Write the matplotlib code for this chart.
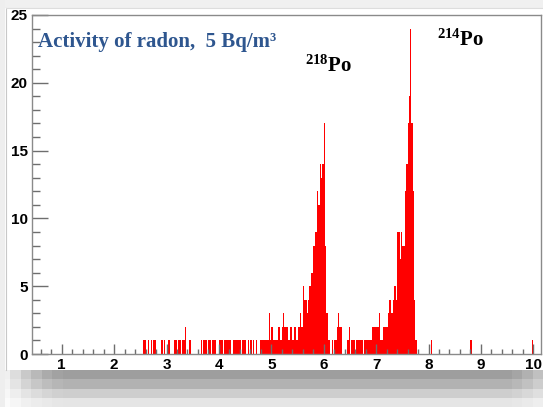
import numpy as np
import matplotlib
matplotlib.use("Agg")
import matplotlib.pyplot as plt
from matplotlib.patches import Rectangle

# ---------------- data (counts per 0.025-wide bin) ----------------
bin_width = 0.025
main_start = 2.5
main_counts = [
    0, 0, 1, 1,   0, 0, 1, 0,   1, 0, 1, 1,   0, 0, 0, 0,   1, 0, 1, 0,      # 2.5 - 2.975
    0, 1, 1, 0,   0, 0, 1, 1,   0, 1, 1, 0,   1, 1, 2, 0,   0, 1, 1, 0,      # 3.0 - 3.475
    0, 0, 0, 0,   0, 0, 1, 0,   1, 1, 1, 0,   1, 1, 0, 1,   1, 1, 0, 0,      # 3.5 - 3.975
    1, 1, 1, 0,   1, 1, 1, 1,   1, 0, 0, 1,   1, 1, 1, 1,   1, 0, 1, 1,      # 4.0 - 4.475
    1, 0, 1, 0,   1, 0, 1, 0,   1, 0, 0, 1,   1, 1, 1, 1,   1, 1, 3, 1,      # 4.5 - 4.975
    2, 1, 1, 1,   1, 2, 2, 1,   2, 3, 2, 2,   2, 1, 2, 2,   1, 2, 2, 1,      # 5.0 - 5.475
    2, 2, 3, 2,   5, 4, 4, 3,   4, 5, 6, 6,   8, 9, 9, 12,  11, 14, 13, 14,  # 5.5 - 5.975
    17, 8, 3, 1,  1, 0, 1, 0,   1, 1, 2, 3,   2, 2, 0, 0,   0, 0, 1, 2,      # 6.0 - 6.475
    0, 1, 1, 1,   0, 1, 1, 1,   1, 1, 0, 1,   1, 1, 1, 1,   1, 2, 2, 2,      # 6.5 - 6.975
    2, 2, 3, 1,   1, 2, 2, 2,   2, 3, 4, 3,   3, 4, 5, 4,   9, 9, 7, 9,      # 7.0 - 7.475
    8, 8, 12, 14, 17, 19, 24, 17, 12, 4, 1, 0,                               # 7.5 - 7.775
]
extra_x = [8.05, 8.80, 9.975]
extra_counts = [1, 1, 1]

x_ticks = [1, 2, 3, 4, 5, 6, 7, 8, 9, 10]
y_ticks = [0, 5, 10, 15, 20, 25]
title_text = "Activity of radon,  5 Bq/m\u00b3"
peak_labels = [r"$\mathbf{^{218}Po}$", r"$\mathbf{^{214}Po}$"]

# ---------------- figure ----------------
plt.rcParams["mathtext.fontset"] = "custom"
plt.rcParams["mathtext.bf"] = "Liberation Serif:bold"
plt.rcParams["mathtext.rm"] = "Liberation Serif"

W, H = 543, 407
fig = plt.figure(figsize=(W / 100, H / 100), dpi=100)
fig.patch.set_facecolor("white")

# slide-like background: light strips and bottom shadow
fig.patches.append(Rectangle((0, 1 - 7.5 / H), 1, 7.5 / H, transform=fig.transFigure,
                             facecolor="#f0f0f0", edgecolor="none", zorder=0))
fig.patches.append(Rectangle((0, 0), 5 / W, 1, transform=fig.transFigure,
                             facecolor="#eeeeee", edgecolor="none", zorder=0))
fig.lines.append(plt.Line2D([5.5 / W, 5.5 / W], [37 / H, 1 - 7.5 / H], transform=fig.transFigure,
                            color="#c8c8c8", lw=0.8))
fig.lines.append(plt.Line2D([5.5 / W, 1], [1 - 7.5 / H, 1 - 7.5 / H], transform=fig.transFigure,
                            color="#dddddd", lw=0.8))

shadow_ax = fig.add_axes([0, 0, 1, 37 / H])
shadow_ax.set_axis_off()
row_dark = np.array([0.10, 0.19, 0.30, 0.38])          # bottom -> top
ncols = 52
col_w = np.ones(ncols)
col_w[:6] = [0.15, 0.35, 0.55, 0.72, 0.86, 0.95]
col_w[-3:] = [0.92, 0.8, 0.65]
img = 1 - row_dark[:, None] * col_w[None, :]
shadow_ax.imshow(np.dstack([img, img, img]), aspect="auto", interpolation="nearest",
                 extent=[0, W, 0, 37], origin="lower")
shadow_ax.set_xlim(0, W)
shadow_ax.set_ylim(0, 37)

# ---------------- histogram axes ----------------
ax = fig.add_axes([32 / W, 1 - 354 / H, (541 - 32) / W, (354 - 15) / H])
edges = main_start + bin_width * np.arange(len(main_counts) + 1)
ax.stairs(main_counts, edges, fill=True, color="#ff0000", lw=0)
ax.bar(extra_x, extra_counts, width=bin_width, align="edge", color="#ff0000", lw=0)

ax.set_xlim(0.433, 10.147)
ax.set_ylim(0, 25)
ax.set_xticks(x_ticks)
ax.set_yticks(y_ticks)
ax.set_xticks(np.arange(0.6, 10.15, 0.2), minor=True)
ax.set_yticks(np.arange(0, 25.1, 1), minor=True)

frame_col = "#8a8a8a"
for s in ax.spines.values():
    s.set_color(frame_col)
    s.set_linewidth(1.0)

ax.tick_params(axis="both", which="both", direction="in", color="#6e6e6e", width=1.0)
ax.tick_params(axis="x", which="major", length=7.2, pad=3)
ax.tick_params(axis="x", which="minor", length=3.6)
ax.tick_params(axis="y", which="major", length=11.5, pad=3)
ax.tick_params(axis="y", which="minor", length=5.8)
ax.tick_params(top=False, right=False)
for lab in ax.get_xticklabels() + ax.get_yticklabels():
    lab.set_fontfamily("Liberation Sans")
    lab.set_fontweight("bold")
    lab.set_fontsize(11)
    lab.set_color("black")

# texts
ax.text(37.5 / W * 0 + 0.011, 1 - (47 - 15) / 339, title_text, transform=ax.transAxes,
        fontsize=15, fontfamily="Liberation Serif", fontweight="bold", color="#2e568f",
        ha="left", va="baseline")
ax.text((305 - 32) / 509, 1 - (72 - 15) / 339, peak_labels[0], transform=ax.transAxes,
        fontsize=15, color="black", ha="left", va="baseline")
ax.text((437 - 32) / 509, 1 - (46 - 15) / 339, peak_labels[1], transform=ax.transAxes,
        fontsize=15, color="black", ha="left", va="baseline")

fig.savefig("out.png", dpi=100, facecolor=fig.get_facecolor())
